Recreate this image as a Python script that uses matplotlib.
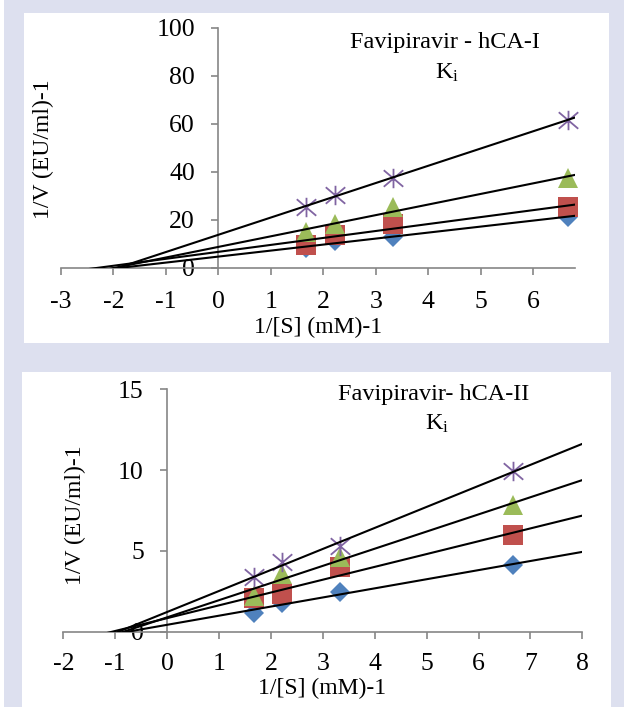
import numpy as np
import matplotlib
matplotlib.use('Agg')
import matplotlib.pyplot as plt
from matplotlib.patches import Rectangle
from matplotlib.path import Path

plt.rcParams['font.family'] = ['Liberation Serif', 'DejaVu Serif']
plt.rcParams['mathtext.fontset'] = 'custom'
plt.rcParams['mathtext.rm'] = 'Liberation Serif'
plt.rcParams['mathtext.it'] = 'Liberation Serif:italic'
plt.rcParams['axes.unicode_minus'] = False

# ---------------- data ----------------
inv_s = [1.667, 2.222, 3.333, 6.667]

hca1_diamond = [8.0, 11.1, 12.9, 21.2]
hca1_square = [9.3, 13.8, 18.4, 25.1]
hca1_triangle = [14.9, 18.4, 25.1, 37.5]
hca1_star = [25.3, 30.2, 37.5, 61.6]

hca2_diamond = [1.16, 1.79, 2.47, 4.12]
hca2_square = [2.06, 2.31, 4.02, 5.98]
hca2_triangle = [2.23, 3.60, 4.60, 7.87]
hca2_star = [3.36, 4.33, 5.30, 9.95]

top_xticks = [-3, -2, -1, 0, 1, 2, 3, 4, 5, 6]
top_yticks = [0, 20, 40, 60, 80, 100]
bot_xticks = [-2, -1, 0, 1, 2, 3, 4, 5, 6, 7, 8]
bot_yticks = [0, 5, 10, 15]

top_title = "Favipiravir - hCA-I"
bot_title = "Favipiravir- hCA-II"
ki_text = r"K$_{\mathrm{i}}$"
xlabel = "1/[S] (mM)-1"
ylabel = "1/V (EU/ml)-1"

# ---------------- style ----------------
W, H = 624, 707
BG = '#dde0ef'
GRAY = '#868686'
C_DIA, C_SQ, C_TRI, C_STAR = '#4f81bd', '#c0504d', '#9bbb59', '#8064a2'
star_marker = Path([(0, -1), (0, 1), (-1, -0.85), (1, 0.85), (-1, 0.85), (1, -0.85)],
                   [Path.MOVETO, Path.LINETO, Path.MOVETO, Path.LINETO,
                    Path.MOVETO, Path.LINETO])

fig = plt.figure(figsize=(W / 100, H / 100), dpi=100)
fig.patch.set_facecolor(BG)


def px_rect(x0, y0, x1, y1):
    return [x0 / W, 1 - y1 / H, (x1 - x0) / W, (y1 - y0) / H]


# white panels (and thin white margin at the far left)
for (x0, y0, x1, y1) in [(23.9, 12.5, 608.8, 342.7), (21.9, 372.3, 610.8, 707),
                         (0, 0, 4, 707)]:
    l, b, w, h = px_rect(x0, y0, x1, y1)
    fig.add_artist(Rectangle((l, b), w, h, transform=fig.transFigure,
                             facecolor='white', edgecolor='none', zorder=0))


def panel(rect, xlim, ylim, xticks, yticks, series, xpad, ypad):
    ax = fig.add_axes(rect)
    ax.set_facecolor('none')
    ax.set_xlim(*xlim)
    ax.set_ylim(*ylim)
    for sp in ['top', 'right']:
        ax.spines[sp].set_visible(False)
    ax.spines['left'].set_position(('data', 0))
    ax.spines['bottom'].set_position(('data', 0))
    for sp in ['left', 'bottom']:
        ax.spines[sp].set_color(GRAY)
        ax.spines[sp].set_linewidth(1.2)
    ax.set_xticks(xticks)
    ax.set_yticks(yticks)
    ax.tick_params(direction='out', length=4.8, width=1.2, color=GRAY,
                   labelsize=18.5, labelcolor='black')
    ax.tick_params(axis='x', pad=xpad)
    ax.tick_params(axis='y', pad=ypad)
    styles = [('D', C_DIA, 10.2), ('s', C_SQ, 14.4), ('^', C_TRI, 14.4)]
    for (m, c, ms), ys in zip(styles, series[:3]):
        ax.plot(inv_s, ys, linestyle='none', marker=m, color=c,
                markersize=ms, markeredgewidth=0, zorder=3, clip_on=False)
    ax.plot(inv_s, series[3], linestyle='none', marker=star_marker,
            markersize=14, markerfacecolor='none', markeredgecolor=C_STAR,
            markeredgewidth=1.3, zorder=3, clip_on=False)
    xl = np.array([xlim[0], xlim[1]])
    for ys in series:
        m, b = np.polyfit(inv_s, ys, 1)
        ax.plot(xl, m * xl + b, color='black', linewidth=1.5, zorder=4)
    return ax


# top panel
ax1 = panel(px_rect(60.8, 27.5, 575.3, 267.7), (-3, 6.8), (0, 100),
            top_xticks, top_yticks,
            [hca1_diamond, hca1_square, hca1_triangle, hca1_star], 12.0, 12)
# bottom panel
ax2 = panel(px_rect(63.3, 389.3, 582.3, 631.7), (-2, 8), (0, 15),
            bot_xticks, bot_yticks,
            [hca2_diamond, hca2_square, hca2_triangle, hca2_star], 10.3, 12)

# texts
TS = 17.5
fig.text(444.5 / W, 1 - 48.3 / H, top_title, ha='center', va='baseline', fontsize=TS)
fig.text(446.7 / W, 1 - 78.3 / H, ki_text, ha='center', va='baseline', fontsize=TS)
fig.text(433.7 / W, 1 - 400 / H, bot_title, ha='center', va='baseline', fontsize=TS)
fig.text(436.7 / W, 1 - 430 / H, ki_text, ha='center', va='baseline', fontsize=TS)

LS = 17
fig.text(43.8 / W, 1 - 149 / H, ylabel, rotation=90, ha='center', va='center', fontsize=LS)
fig.text(75.6 / W, 1 - 515 / H, ylabel, rotation=90, ha='center', va='center', fontsize=LS)
fig.text(318.4 / W, 1 - 333 / H, xlabel, ha='center', va='baseline', fontsize=LS)
fig.text(322.3 / W, 1 - 694 / H, xlabel, ha='center', va='baseline', fontsize=LS)

fig.savefig('out.png', dpi=100, facecolor=BG)
